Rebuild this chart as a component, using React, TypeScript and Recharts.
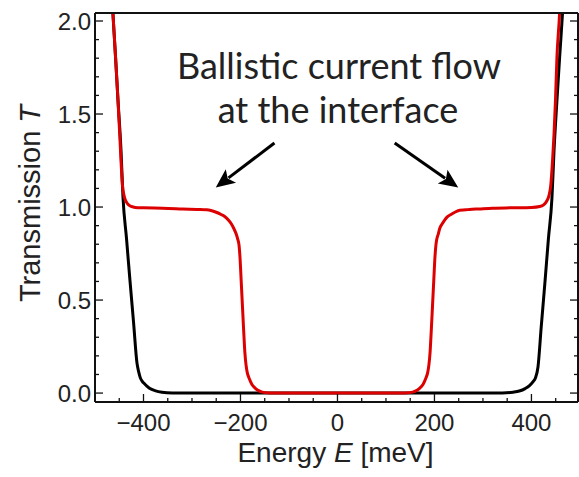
import React from 'react';
import { LineChart, Line, XAxis, YAxis, ReferenceLine } from 'recharts';

// Black curve: energy E [meV] and transmission T
const blackE = [-472,-463,-457.5,-452.6,-446.4,-442.3,-435,-428,-420.5,-413.4,-410,-406.7,-402.5,-398.4,-393,-387.7,-375,-362,-340,-300,-200,-100,0,100,200,300,340,362,375,387,396,403,408,413.5,420,428,435,442.3,446.5,452.5,458,464,472];
const blackT = [2.5,2.04,1.8,1.575,1.306,1.054,0.83,0.608,0.38,0.161,0.115,0.083,0.063,0.051,0.037,0.026,0.012,0.005,0.001,0,0,0,0,0,0,0,0.001,0.005,0.011,0.024,0.04,0.06,0.08,0.14,0.35,0.6,0.83,1.05,1.3,1.57,1.8,2.04,2.45];

// Red curve: energy E [meV] and transmission T
const redE = [-472,-463,-457.5,-452.6,-449,-446.4,-443.5,-440,-436,-431,-425,-417,-400,-360,-320,-290,-270,-263,-250,-240,-232,-225,-219,-214,-209,-206,-203,-201,-198.5,-196,-193.5,-191,-188.5,-186,-183,-180,-176,-172,-165,-155,-140,-120,0,120,140,155,165,172,176,180,183,186,188.5,191,193.5,196,198.5,201,203,205,208,211,216,221,227,234,242,252,265,272,292,320,360,400,417,425,431,436,440,443.5,446.5,449.5,452.5,458,464,472];
const redT = [2.5,2.04,1.8,1.575,1.39,1.25,1.12,1.06,1.03,1.012,1.003,0.998,0.996,0.994,0.99,0.987,0.985,0.983,0.972,0.96,0.948,0.93,0.91,0.886,0.856,0.83,0.795,0.73,0.6,0.47,0.34,0.22,0.15,0.11,0.085,0.066,0.045,0.032,0.016,0.005,0.001,0,0,0,0.001,0.005,0.016,0.032,0.045,0.066,0.085,0.11,0.15,0.22,0.34,0.47,0.6,0.73,0.795,0.83,0.856,0.886,0.91,0.93,0.948,0.96,0.972,0.983,0.985,0.987,0.99,0.994,0.996,0.998,1.003,1.012,1.03,1.06,1.12,1.25,1.39,1.57,1.8,2.04,2.45];

const xTicks = [-450,-400,-350,-300,-250,-200,-150,-100,-50,0,50,100,150,200,250,300,350,400,450];
const xMajor = [-400,-200,0,200,400];
const yTicks = [0,0.1,0.2,0.3,0.4,0.5,0.6,0.7,0.8,0.9,1.0,1.1,1.2,1.3,1.4,1.5,1.6,1.7,1.8,1.9,2.0];
const yMajor = [0,0.5,1.0,1.5,2.0];

const xDomain: [number, number] = [-500, 496];
const yDomain: [number, number] = [-0.048, 2.043];

// arrows (data coordinates): start -> tip
const arrowLeft = [{ x: -130, y: 1.344 }, { x: -251, y: 1.105 }];
const arrowRight = [{ x: 118, y: 1.344 }, { x: 249, y: 1.105 }];

const annotationLines = ['Ballistic current flow', 'at the interface'];

const blackData = blackE.map((e, i) => ({ e, t: blackT[i] }));
const redData = redE.map((e, i) => ({ e, t: redT[i] }));

const TICK_FONT = '"Liberation Sans", Arial, sans-serif';
const FRAME = '#111';

const isMajorX = (v: number) => xMajor.some((m) => Math.abs(m - v) < 1e-6);
const isMajorY = (v: number) => yMajor.some((m) => Math.abs(m - v) < 1e-6);
const fmtX = (v: number) => (v < 0 ? '\u2212' + Math.abs(v) : String(v));
const fmtY = (v: number) => v.toFixed(1);

const makeXTick = (dir: 'up' | 'down', label: boolean) => (props: any) => {
  const { x, y, payload } = props;
  const major = isMajorX(payload.value);
  const len = major ? 8 : 4;
  return (
    <g>
      <line x1={x} x2={x} y1={y} y2={dir === 'up' ? y - len : y + len} stroke={FRAME} strokeWidth={1.3} />
      {label && major && (
        <text x={x} y={y + 29} textAnchor="middle" fontFamily={TICK_FONT} fontSize={24} fill="#222">
          {fmtX(payload.value)}
        </text>
      )}
    </g>
  );
};

const makeYTick = (dir: 'right' | 'left', label: boolean) => (props: any) => {
  const { x, y, payload } = props;
  const major = isMajorY(payload.value);
  const len = major ? 8 : 4;
  return (
    <g>
      <line x1={x} x2={dir === 'right' ? x + len : x - len} y1={y} y2={y} stroke={FRAME} strokeWidth={1.3} />
      {label && major && (
        <text x={x - 4} y={y} dy="0.36em" textAnchor="end" fontFamily={TICK_FONT} fontSize={24} fill="#222">
          {fmtY(payload.value)}
        </text>
      )}
    </g>
  );
};

const XLabel = (props: any) => {
  const vb = props.viewBox || {};
  return (
    <text x={vb.x + vb.width / 2 - 1} y={vb.y + 60} textAnchor="middle" fontFamily={TICK_FONT} fontSize={28} fill="#222">
      Energy <tspan fontStyle="italic">E</tspan> [meV]
    </text>
  );
};

const YLabel = (props: any) => {
  const vb = props.viewBox || {};
  const cx = 40;
  const cy = vb.y + vb.height / 2 - 4;
  return (
    <text x={cx} y={cy} transform={`rotate(-90 ${cx} ${cy})`} textAnchor="middle" fontFamily={TICK_FONT} fontSize={29} fill="#222">
      Transmission <tspan fontStyle="italic">T</tspan>
    </text>
  );
};

const Arrow = (props: any) => {
  const { x1, y1, x2, y2 } = props;
  const dx = x2 - x1;
  const dy = y2 - y1;
  const L = Math.hypot(dx, dy) || 1;
  const ux = dx / L;
  const uy = dy / L;
  const hl = 19;
  const hw = 8.5;
  const bx = x2 - ux * hl;
  const by = y2 - uy * hl;
  const px = -uy;
  const py = ux;
  return (
    <g>
      <line x1={x1} y1={y1} x2={bx + ux * 3} y2={by + uy * 3} stroke="#000" strokeWidth={3} />
      <polygon
        points={`${x2},${y2} ${bx + px * hw},${by + py * hw} ${bx + ux * 4},${by + uy * 4} ${bx - px * hw},${by - py * hw}`}
        fill="#000"
      />
    </g>
  );
};

export default function App() {
  return (
    <div style={{ position: 'absolute', left: 0, top: 0, width: 579, height: 477, background: '#fff' }}>
      <LineChart width={579} height={477} margin={{ top: 12, right: 0, bottom: 0, left: 0 }}>
        <XAxis
          dataKey="e"
          type="number"
          domain={xDomain}
          allowDataOverflow
          ticks={xTicks}
          interval={0}
          height={75}
          tickSize={0}
          tickMargin={0}
          tickLine={false}
          axisLine={{ stroke: FRAME, strokeWidth: 2 }}
          tick={makeXTick('up', true)}
          label={<XLabel />}
        />
        <XAxis
          xAxisId="top"
          orientation="top"
          type="number"
          domain={xDomain}
          allowDataOverflow
          ticks={xTicks}
          interval={0}
          height={1}
          tickSize={0}
          tickMargin={0}
          tickLine={false}
          axisLine={{ stroke: FRAME, strokeWidth: 2 }}
          tick={makeXTick('down', false)}
        />
        <YAxis
          type="number"
          domain={yDomain}
          allowDataOverflow
          ticks={yTicks}
          interval={0}
          width={95}
          tickSize={0}
          tickMargin={0}
          tickLine={false}
          axisLine={{ stroke: FRAME, strokeWidth: 2 }}
          tick={makeYTick('right', true)}
          label={<YLabel />}
        />
        <YAxis
          yAxisId="right"
          orientation="right"
          type="number"
          domain={yDomain}
          allowDataOverflow
          ticks={yTicks}
          interval={0}
          width={1}
          tickSize={0}
          tickMargin={0}
          tickLine={false}
          axisLine={{ stroke: FRAME, strokeWidth: 2 }}
          tick={makeYTick('left', false)}
        />
        <Line data={blackData} dataKey="t" type="monotone" stroke="#000" strokeWidth={3} dot={false} activeDot={false} isAnimationActive={false} />
        <Line data={redData} dataKey="t" type="monotone" stroke="#dd0000" strokeWidth={3} dot={false} activeDot={false} isAnimationActive={false} />
        <ReferenceLine segment={arrowLeft} shape={Arrow} ifOverflow="visible" />
        <ReferenceLine segment={arrowRight} shape={Arrow} ifOverflow="visible" />
        <text x={339} y={79} textAnchor="middle" fontFamily="Lato, 'Open Sans', sans-serif" fontSize={36} fill="#222">
          {annotationLines[0]}
        </text>
        <text x={338} y={123} textAnchor="middle" fontFamily="Lato, 'Open Sans', sans-serif" fontSize={36} fill="#222">
          {annotationLines[1]}
        </text>
      </LineChart>
    </div>
  );
}
